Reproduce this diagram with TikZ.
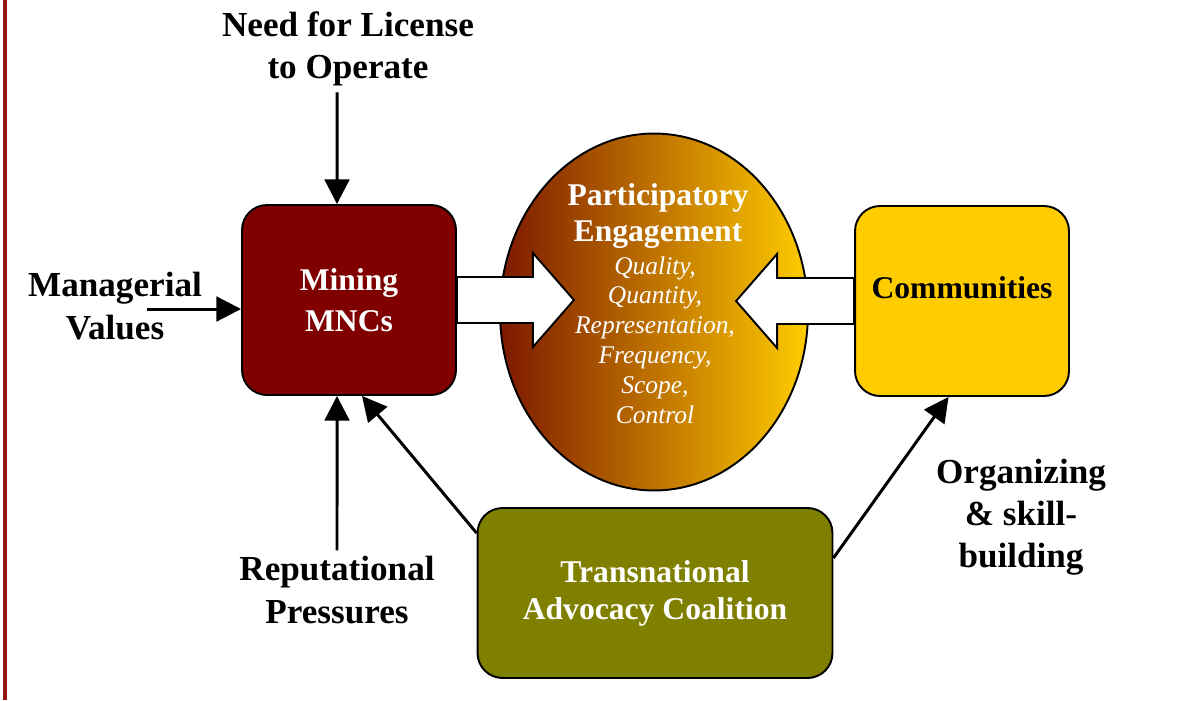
\documentclass[tikz,border=0pt]{standalone}
\usepackage{fontspec}
\setmainfont{Liberation Serif}
\usepackage{xcolor}
\usetikzlibrary{positioning,arrows.meta,shapes.geometric}
\definecolor{mnccol}{RGB}{128,0,0}
\definecolor{commcol}{RGB}{255,204,0}
\definecolor{taccol}{RGB}{128,128,0}
\definecolor{pedark}{RGB}{125,25,0}
\definecolor{rulecol}{RGB}{145,22,22}

\begin{document}
\begin{tikzpicture}[x=0.02cm,y=-0.02cm,
  box/.style={rectangle,draw,rounded corners=0.5cm,line width=1.1pt,minimum width=4.28cm,minimum height=3.8cm,align=center,font=\fontsize{18}{23}\selectfont\bfseries},
  lbl/.style={align=center,font=\fontsize{20}{24}\selectfont\bfseries},
  arr/.style={-{Triangle[length=14pt,width=14pt]},line width=1.7pt},
  fat/.style={draw,line width=1.1pt,fill=white,line join=miter}]
  \useasboundingbox (0,0) rectangle (1182,700);
  \draw[rulecol,line width=0.08cm](5,0)--(5,700);
  % the three actors
  \node[box,fill=mnccol,text=white](mnc) at (349,300){Mining\\MNCs};
  \node[box,fill=commcol](comm) at (962,301){\raisebox{0.52cm}{Communities}};
  \node[box,fill=taccol,text=white,minimum width=7.1cm,minimum height=3.4cm,font=\fontsize{18}{21}\selectfont\bfseries](tac) at (655,593){\raisebox{-0.1cm}{Transnational}\\\raisebox{-0.1cm}{Advocacy Coalition}};
  % engagement in the middle
  \node[ellipse,draw,line width=1.1pt,minimum width=6.16cm,minimum height=7.14cm,inner sep=0pt,left color=pedark,right color=commcol](pe) at (654,312){};
  \node[align=center,text=white,font=\fontsize{18}{21}\selectfont\bfseries](pehead) at (658,216){Participatory\\Engagement};
  \node[align=center,text=white,font=\fontsize{14.5}{17}\selectfont\itshape](pelist) at (655,340){Quality,\\Quantity,\\Representation,\\Frequency,\\Scope,\\Control};
  \draw[fat](mnc.east)++(0,-23)--++(76,0)--++(0,-24)--++(41,47)--++(-41,47)--++(0,-24)--++(-76,0)--cycle;
  \draw[fat](comm.west)++(0,-23)--++(-77,0)--++(0,-24)--++(-41,47)--++(41,47)--++(0,-24)--++(77,0)--cycle;
  % outside pressures
  \node[lbl](lic) at (348,49){Need for License\\to Operate};
  \node[lbl](mgr) at (115,306){Managerial\\Values};
  \node[lbl](rep) at (337,590){Reputational\\Pressures};
  \node[lbl](org) at (1021,517){Organizing\\\& skill-\\building};
  \coordinate (mgrtail) at (147,309);
  \draw[arr]([xshift=-0.22cm]lic.south)--([xshift=-0.24cm]mnc.north);
  \draw[arr](mgrtail)--(mnc.west|-mgrtail);
  \draw[arr](rep.north)--([xshift=-0.24cm]mnc.south);
  \draw[arr]([yshift=1.2cm]tac.west)--([xshift=0.26cm]mnc.south);
  \draw[arr]([yshift=0.7cm]tac.east)--([xshift=-0.27cm]comm.south);
\end{tikzpicture}
\end{document}
